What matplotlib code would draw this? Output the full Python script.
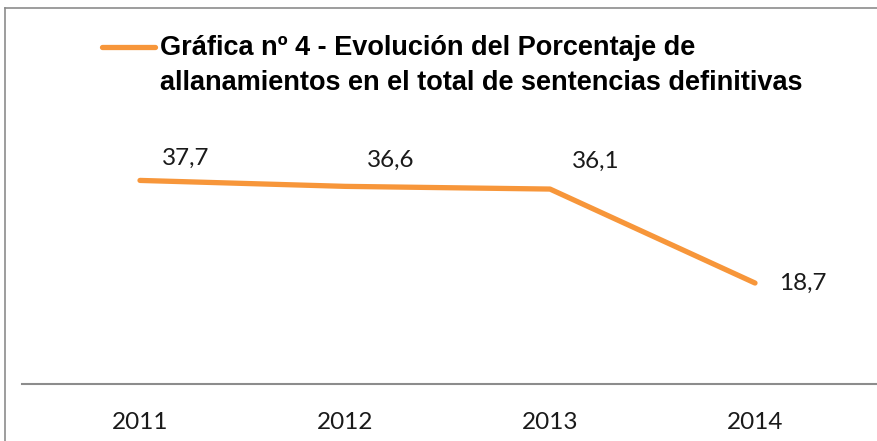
import matplotlib
matplotlib.use("Agg")
import matplotlib.pyplot as plt
from matplotlib.lines import Line2D

years = ["2011", "2012", "2013", "2014"]
values = [37.7, 36.6, 36.1, 18.7]
labels = ["37,7", "36,6", "36,1", "18,7"]
title_lines = ["Gráfica nº 4 - Evolución del Porcentaje de",
               "allanamientos en el total de sentencias definitivas"]

W, H = 877, 441
fig = plt.figure(figsize=(W / 100, H / 100), dpi=100)
fig.patch.set_facecolor("white")

def fx(px):
    return px / W

def fy(py):
    return 1 - py / H

ax = fig.add_axes([fx(22), fy(384), fx(876) - fx(22), fy(60) - fy(384)])
ax.set_facecolor("none")
orange = "#F7963A"
x = list(range(len(years)))
ax.plot(x, values, color=orange, lw=3.8, solid_capstyle="round", solid_joinstyle="round")
ax.set_xlim(-118 / 205, 736 / 205)
ax.set_ylim(0, 60)
ax.set_xticks(x)
ax.set_xticklabels(years)
ax.set_yticks([])
for s in ["top", "right", "left"]:
    ax.spines[s].set_visible(False)
ax.spines["bottom"].set_color("#8C8C8C")
ax.spines["bottom"].set_linewidth(1.5)
ax.tick_params(axis="x", length=0, pad=20, labelsize=17.5, labelcolor="#1a1a1a")
for t in ax.get_xticklabels():
    t.set_fontfamily(["Lato", "DejaVu Sans"])

offsets = [(22, 22), (22, 26), (22, 28), (24, 0)]
for xi, v, lab, off in zip(x, values, labels, offsets):
    ax.annotate(lab, (xi, v), xytext=off, textcoords="offset pixels",
                ha="left", va="center", fontsize=17.5, color="#1a1a1a",
                family=["Lato", "DejaVu Sans"])

# frame
fig.add_artist(Line2D([fx(4.5), fx(4.5)], [0, fy(8)], transform=fig.transFigure,
                      color="#8C8C8C", lw=1.2))
fig.add_artist(Line2D([fx(4.5), 1], [fy(8), fy(8)], transform=fig.transFigure,
                      color="#8C8C8C", lw=1.2))

# legend
fig.add_artist(Line2D([fx(102), fx(155)], [fy(47), fy(47)], transform=fig.transFigure,
                      color=orange, lw=3.8, solid_capstyle="round"))
for i, tl in enumerate(title_lines):
    fig.text(fx(160), fy(48 + 35 * i), tl, ha="left", va="center", fontsize=19.5,
             fontweight="bold", family=["Liberation Sans", "DejaVu Sans"],
             color="#000000")

fig.savefig("out.png", dpi=100)
